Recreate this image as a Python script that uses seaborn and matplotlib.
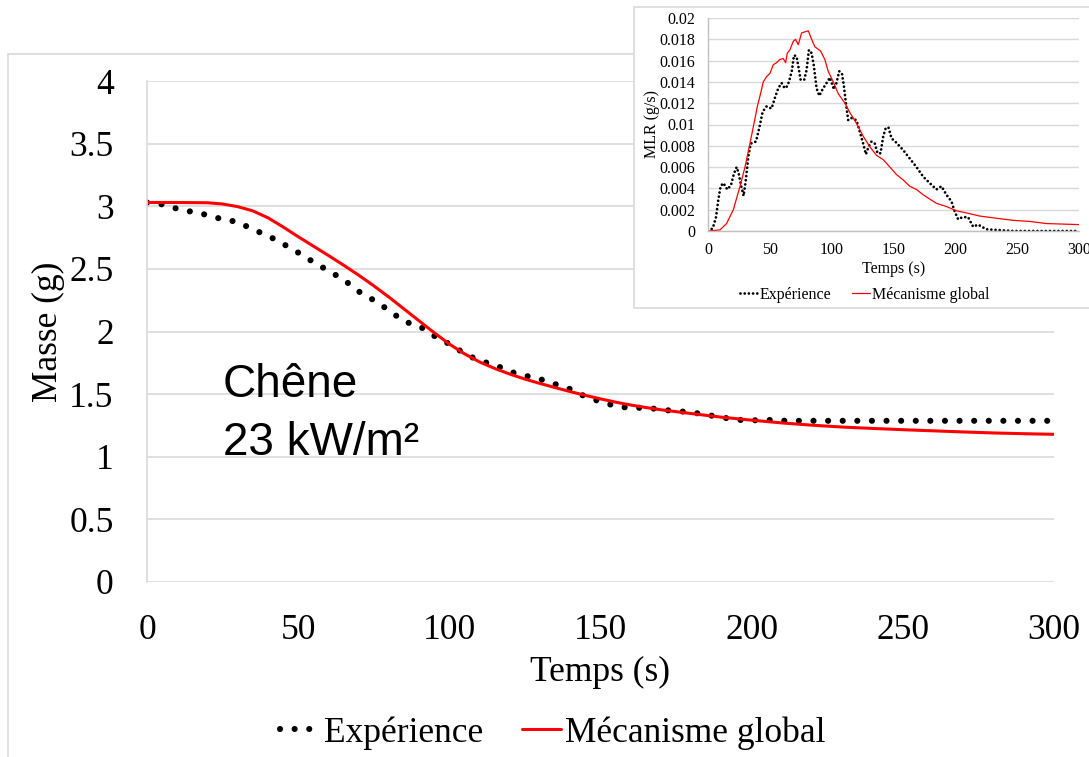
import matplotlib
matplotlib.use("Agg")
import matplotlib.pyplot as plt
from matplotlib.patches import Rectangle
from matplotlib.lines import Line2D
import seaborn as sns
import pandas as pd

# ---------------- data ----------------
exp_time = [0, 5, 10, 15, 20, 25, 30, 35, 40, 45, 50, 55, 60, 65, 70, 75, 80, 85, 90, 95,
            100, 105, 110, 115, 120, 125, 130, 135, 140, 145, 150, 155, 160, 165, 170, 175,
            180, 185, 190, 195, 200, 205, 210, 215, 220, 225, 230, 235, 240, 245, 250, 255,
            260, 265, 270, 275, 280, 285, 290, 295, 300]
exp_mass = [3.03, 3.015, 2.98, 2.955, 2.93, 2.895, 2.875, 2.815, 2.765, 2.70, 2.63, 2.555,
            2.485, 2.415, 2.32, 2.25, 2.17, 2.08, 2.045, 1.965, 1.90, 1.825, 1.765, 1.735,
            1.68, 1.648, 1.62, 1.58, 1.54, 1.48, 1.44, 1.405, 1.388, 1.393, 1.376, 1.365,
            1.355, 1.335, 1.315, 1.295, 1.29, 1.295, 1.288, 1.287, 1.287, 1.287, 1.287, 1.287,
            1.287, 1.287, 1.287, 1.287, 1.287, 1.287, 1.287, 1.287, 1.287, 1.287, 1.287,
            1.287, 1.287]

mod_time = [0, 10, 20, 25, 30, 35, 40, 45, 50, 55, 60, 65, 70, 75, 80, 85, 90, 95, 100, 105,
            110, 115, 120, 125, 130, 135, 140, 145, 150, 155, 160, 165, 170, 180, 190, 200,
            210, 220, 230, 240, 250, 260, 270, 280, 290, 300]
mod_mass = [3.03, 3.03, 3.028, 3.018, 2.997, 2.963, 2.908, 2.835, 2.757, 2.682, 2.607, 2.53,
            2.45, 2.365, 2.275, 2.18, 2.085, 1.99, 1.90, 1.822, 1.757, 1.705, 1.66, 1.62,
            1.585, 1.552, 1.52, 1.49, 1.462, 1.436, 1.413, 1.393, 1.375, 1.345, 1.316, 1.292,
            1.27, 1.252, 1.237, 1.226, 1.216, 1.207, 1.198, 1.19, 1.184, 1.179]

mlr_exp_time = [0, 3.8, 6.5, 8.3, 10.2, 12.4, 15.6, 18.6, 21, 23.2, 24.8, 26.7, 28.8, 30.4,
                32.6, 34.5, 38.8, 41.5, 44.2, 47.4, 51.4, 54.1, 56.8, 59.5, 62, 64.1, 65.7,
                67.9, 69.5, 71.6, 73, 74.9, 77.8, 79.7, 81.6, 83.8, 85.6, 87.8, 90, 92.6, 95.9,
                98.6, 101.8, 103.9, 106.1, 108.3, 109.9, 111.5, 113.4, 116.1, 120.1, 122.8,
                125.5, 127.7, 129.8, 132.2, 134.9, 137.1, 139.5, 141.7, 143.8, 146, 148.4,
                151.4, 157.8, 163.2, 168.6, 174, 179.3, 184.7, 188.8, 192.8, 196.8, 199.6,
                202.3, 205.8, 210.3, 214.4, 218.4, 225.1, 233.2, 246.7, 300]
mlr_exp = [0, 0.00025, 0.0013, 0.0029, 0.0042, 0.0045, 0.0039, 0.0043, 0.0054, 0.006, 0.0054,
           0.0043, 0.0033, 0.0046, 0.007, 0.0082, 0.0084, 0.0097, 0.0112, 0.0117, 0.0115,
           0.0125, 0.0134, 0.0139, 0.0134, 0.0136, 0.0141, 0.0151, 0.0165, 0.0164, 0.0155,
           0.0142, 0.0142, 0.0151, 0.017, 0.0167, 0.0155, 0.0134, 0.0127, 0.0133, 0.0139,
           0.0144, 0.0133, 0.0139, 0.0150, 0.0148, 0.0136, 0.012, 0.0104, 0.0106, 0.0104,
           0.0093, 0.0082, 0.0072, 0.0079, 0.0084, 0.0082, 0.0073, 0.0073, 0.0089, 0.0097,
           0.0097, 0.0087, 0.0084, 0.0076, 0.0068, 0.006, 0.0051, 0.0045, 0.0039, 0.0042,
           0.0034, 0.0028, 0.0018, 0.0011, 0.0013, 0.0013, 0.0004, 0.0006, 0.00016, 0.0001,
           0.0, 0.0]

mlr_mod_time = [0, 9.7, 15, 20.5, 25.9, 29.9, 33.9, 37.2, 39.9, 42.5, 44.7, 47.4, 50.1, 52.7,
                55.4, 58.1, 60.8, 62.8, 64.1, 66.2, 68.9, 70.8, 73, 75.7, 78.4, 81.1, 83.8,
                86.4, 91, 94.5, 97.2, 101.3, 105.3, 110.7, 114.8, 120.1, 125.5, 130.9, 136.3,
                141.7, 147.1, 152.4, 157.8, 163.2, 168.6, 174, 179.3, 184.7, 192.8, 200.9,
                209, 219.8, 233.2, 246.7, 260.2, 273.6, 300]
mlr_mod = [0, 0.0001, 0.0007, 0.002, 0.0042, 0.006, 0.0082, 0.0101, 0.0117, 0.0129, 0.014,
           0.0145, 0.0148, 0.0156, 0.0158, 0.0161, 0.0162, 0.0158, 0.0167, 0.017, 0.0178,
           0.018, 0.0175, 0.0186, 0.0187, 0.0188, 0.018, 0.0173, 0.0169, 0.0161, 0.015, 0.014,
           0.0129, 0.012, 0.0111, 0.0101, 0.0089, 0.0079, 0.0071, 0.0067, 0.006, 0.0053,
           0.0048, 0.0042, 0.0039, 0.0034, 0.003, 0.0026, 0.0023, 0.0019, 0.0017, 0.0014,
           0.0012, 0.001, 0.0009, 0.0007, 0.0006]

series_labels = ["Expérience", "Mécanisme global"]
x_ticks = [0, 50, 100, 150, 200, 250, 300]
y_ticks = [0, 0.5, 1, 1.5, 2, 2.5, 3, 3.5, 4]
y_tick_labels = ["0", "0.5", "1", "1.5", "2", "2.5", "3", "3.5", "4"]
inset_y_ticks = [0, 0.002, 0.004, 0.006, 0.008, 0.01, 0.012, 0.014, 0.016, 0.018, 0.02]
inset_y_labels = ["0", "0.002", "0.004", "0.006", "0.008", "0.01", "0.012", "0.014",
                  "0.016", "0.018", "0.02"]

# ---------------- style ----------------
sns.set_theme(style="white")
plt.rcParams["font.family"] = ["Liberation Serif", "DejaVu Serif"]
plt.rcParams["text.color"] = "black"
plt.rcParams["axes.labelcolor"] = "black"

W, H = 1089, 757
fig = plt.figure(figsize=(W / 100, H / 100), dpi=100)
fig.patch.set_facecolor("white")

GRID = "#d9d9d9"
RED = "#ff0000"
FS = 25.5
FS2 = 11.5

# outer frame of main chart
fig.add_artist(Rectangle((8 / W, -0.1), 1.2, (1 - 54 / H) + 0.1, transform=fig.transFigure,
                         facecolor="none", edgecolor=GRID, lw=1.2, zorder=0))

# ---------------- main axes ----------------
ax = fig.add_axes([147 / W, 1 - 582 / H, 907 / W, 501 / H])
ax.set_zorder(1)
ax.patch.set_alpha(0)

df_exp = pd.DataFrame({"t": exp_time, "m": exp_mass})
df_mod = pd.DataFrame({"t": mod_time, "m": mod_mass})

dot_style = dict(color="black", linewidth=4.4, linestyle=(0, (0.01, 2.38)),
                 dash_capstyle="round")
sns.lineplot(data=df_exp, x="t", y="m", ax=ax, estimator=None, sort=False, **dot_style)
sns.lineplot(data=df_mod, x="t", y="m", ax=ax, estimator=None, sort=False,
             color=RED, linewidth=2.2)

ax.set_xlim(0, 300)
ax.set_ylim(0, 4)
ax.set_xticks(x_ticks)
ax.set_xticklabels([str(v) for v in x_ticks])
ax.set_yticks(y_ticks)
ax.set_yticklabels(y_tick_labels)
ax.grid(axis="y", color=GRID, lw=1.2)
ax.grid(axis="x", visible=False)
for s in ["top", "right", "bottom"]:
    ax.spines[s].set_visible(False)
ax.spines["left"].set_color(GRID)
ax.spines["left"].set_linewidth(1.2)
ax.tick_params(axis="both", length=0, labelsize=FS, colors="black")
ax.tick_params(axis="y", pad=24)
ax.tick_params(axis="x", pad=23)

ax.set_xlabel("Temps (s)", fontsize=FS, color="black")
ax.set_ylabel("Masse (g)", fontsize=FS, color="black")
ax.xaxis.label.set_va("center")
ax.xaxis.set_label_coords(0.5, (582 - 672) / 501)
ax.yaxis.label.set_va("center")
ax.yaxis.set_label_coords((48 - 147) / 907, 0.5)

ax.text((222.7 - 147) / 907, (582 - 397) / 501, "Chêne", transform=ax.transAxes,
        family=["Liberation Sans", "DejaVu Sans"], fontsize=33, va="baseline", ha="left",
        color="black")
ax.text((222.7 - 147) / 907, (582 - 455) / 501, "23 kW/m²", transform=ax.transAxes,
        family=["Liberation Sans", "DejaVu Sans"], fontsize=33, va="baseline", ha="left",
        color="black")

handles = [Line2D([], [], **dot_style), Line2D([], [], color=RED, linewidth=2.2)]
fig.legend(handles, series_labels, loc="center", bbox_to_anchor=(553 / W, 1 - 733 / H),
           ncol=2, frameon=False, fontsize=FS, handlelength=1.1, handletextpad=0.12,
           columnspacing=1.1, labelcolor="black")

# ---------------- inset ----------------
fig.add_artist(Rectangle((634 / W, 1 - 308 / H), (1150 - 634) / W, (308 - 7) / H,
                         transform=fig.transFigure, facecolor="white", edgecolor=GRID,
                         lw=1.2, zorder=1.5))

ax2 = fig.add_axes([708 / W, 1 - 231 / H, 371 / W, 213 / H])
ax2.set_zorder(2)
ax2.patch.set_alpha(0)

df_mlr_exp = pd.DataFrame({"t": mlr_exp_time, "v": mlr_exp})
df_mlr_mod = pd.DataFrame({"t": mlr_mod_time, "v": mlr_mod})
small_dot = dict(color="black", linewidth=2.0, linestyle=(0, (0.01, 1.5)),
                 dash_capstyle="round")
sns.lineplot(data=df_mlr_exp, x="t", y="v", ax=ax2, estimator=None, sort=False, **small_dot)
sns.lineplot(data=df_mlr_mod, x="t", y="v", ax=ax2, estimator=None, sort=False,
             color=RED, linewidth=0.9)

ax2.set_xlim(0, 300)
ax2.set_ylim(0, 0.02)
ax2.set_xticks(x_ticks)
ax2.set_xticklabels([str(v) for v in x_ticks])
ax2.set_yticks(inset_y_ticks)
ax2.set_yticklabels(inset_y_labels)
ax2.grid(axis="y", color=GRID, lw=1.0)
ax2.grid(axis="x", visible=False)
for s in ["top", "right"]:
    ax2.spines[s].set_visible(False)
for s in ["left", "bottom"]:
    ax2.spines[s].set_color("#bfbfbf")
    ax2.spines[s].set_linewidth(1.0)
ax2.tick_params(axis="both", length=0, labelsize=FS2, colors="black")
ax2.tick_params(axis="y", pad=9)
ax2.tick_params(axis="x", pad=8)
ax2.set_xlabel("Temps (s)", fontsize=FS2, color="black")
ax2.set_ylabel("MLR (g/s)", fontsize=FS2, color="black")
ax2.xaxis.label.set_va("center")
ax2.xaxis.set_label_coords(0.5, (231 - 269) / 213)
ax2.yaxis.label.set_va("center")
ax2.yaxis.set_label_coords((652 - 708) / 371, 0.5)

handles2 = [Line2D([], [], **small_dot), Line2D([], [], color=RED, linewidth=0.9)]
leg2 = fig.legend(handles2, series_labels, loc="center", bbox_to_anchor=(865 / W, 1 - 295 / H),
                  ncol=2, frameon=False, fontsize=FS2, handlelength=1.1, handletextpad=0.15,
                  columnspacing=1.3, labelcolor="black")
leg2.set_zorder(3)

fig.savefig("out.png", dpi=100, facecolor="white")
